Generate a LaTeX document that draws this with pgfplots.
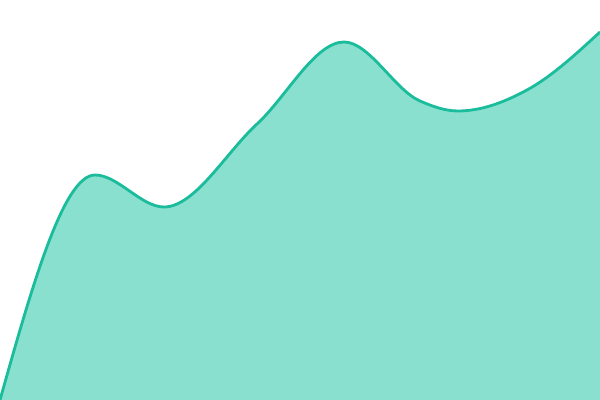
\documentclass[border=0pt]{standalone}
\usepackage{pgfplots}
\pgfplotsset{compat=1.18}
\definecolor{teal1}{HTML}{1ABC9C}
\definecolor{tealfill}{HTML}{8AE0CF}

% monotone cubic plot handler (like d3 curveMonotoneX)
\makeatletter
\newcount\mono@n
\newcount\mono@i
\newcount\mono@j
\def\mono@v#1#2{\csname mono@#1@\number#2\endcsname}
\def\pgfplothandlermonotone{%
  \def\pgf@plotstreamstart{%
    \global\mono@n=0\relax
    \global\let\pgf@plotstreampoint=\mono@point
    \global\let\pgf@plotstreamspecial=\pgfutil@gobble
    \global\let\pgf@plotstreamend=\mono@end
  }%
}
\def\mono@point#1{%
  \pgf@process{#1}%
  \global\advance\mono@n by 1\relax
  \expandafter\xdef\csname mono@x@\the\mono@n\endcsname{\pgf@sys@tonumber\pgf@x}%
  \expandafter\xdef\csname mono@y@\the\mono@n\endcsname{\pgf@sys@tonumber\pgf@y}%
}
\def\mono@end{%
  \ifnum\mono@n>1
    % secants
    \mono@i=1
    \loop\ifnum\mono@i<\mono@n
      \mono@j=\mono@i \advance\mono@j by 1
      \pgfmathsetmacro\mono@h{(\mono@v{x}{\mono@j})-(\mono@v{x}{\mono@i})}%
      \pgfmathsetmacro\mono@s{((\mono@v{y}{\mono@j})-(\mono@v{y}{\mono@i}))/\mono@h}%
      \expandafter\xdef\csname mono@h@\the\mono@i\endcsname{\mono@h}%
      \expandafter\xdef\csname mono@s@\the\mono@i\endcsname{\mono@s}%
      \advance\mono@i by 1
    \repeat
    % tangents at inner points
    \mono@i=2
    \loop\ifnum\mono@i<\mono@n
      \mono@j=\mono@i \advance\mono@j by -1
      \pgfmathsetmacro\mono@p{((\mono@v{s}{\mono@j})*(\mono@v{h}{\mono@i})+(\mono@v{s}{\mono@i})*(\mono@v{h}{\mono@j}))/((\mono@v{h}{\mono@j})+(\mono@v{h}{\mono@i}))}%
      \pgfmathsetmacro\mono@m{(sign(\mono@v{s}{\mono@j})+sign(\mono@v{s}{\mono@i}))*min(abs(\mono@v{s}{\mono@j}),abs(\mono@v{s}{\mono@i}),0.5*abs(\mono@p))}%
      \expandafter\xdef\csname mono@m@\the\mono@i\endcsname{\mono@m}%
      \advance\mono@i by 1
    \repeat
    % end tangents
    \ifnum\mono@n=2
      \expandafter\xdef\csname mono@m@1\endcsname{\mono@v{s}{1}}%
      \expandafter\xdef\csname mono@m@2\endcsname{\mono@v{s}{1}}%
    \else
      \pgfmathsetmacro\mono@m{(3*(\mono@v{s}{1})-(\mono@v{m}{2}))/2}%
      \expandafter\xdef\csname mono@m@1\endcsname{\mono@m}%
      \mono@i=\mono@n \advance\mono@i by -1
      \pgfmathsetmacro\mono@m{(3*(\mono@v{s}{\mono@i})-(\mono@v{m}{\mono@i}))/2}%
      \expandafter\xdef\csname mono@m@\the\mono@n\endcsname{\mono@m}%
    \fi
    % path
    \pgf@plot@first@action{\pgfqpoint{\mono@v{x}{1}pt}{\mono@v{y}{1}pt}}%
    \mono@i=1
    \loop\ifnum\mono@i<\mono@n
      \mono@j=\mono@i \advance\mono@j by 1
      \pgfmathsetmacro\mono@ax{(\mono@v{x}{\mono@i})+(\mono@v{h}{\mono@i})/3}%
      \pgfmathsetmacro\mono@ay{(\mono@v{y}{\mono@i})+(\mono@v{m}{\mono@i})*(\mono@v{h}{\mono@i})/3}%
      \pgfmathsetmacro\mono@bx{(\mono@v{x}{\mono@j})-(\mono@v{h}{\mono@i})/3}%
      \pgfmathsetmacro\mono@by{(\mono@v{y}{\mono@j})-(\mono@v{m}{\mono@j})*(\mono@v{h}{\mono@i})/3}%
      \pgfpathcurveto{\pgfqpoint{\mono@ax pt}{\mono@ay pt}}%
        {\pgfqpoint{\mono@bx pt}{\mono@by pt}}%
        {\pgfqpoint{\mono@v{x}{\mono@j}pt}{\mono@v{y}{\mono@j}pt}}%
      \advance\mono@i by 1
    \repeat
  \fi
}
\tikzset{monotone/.code={\let\tikz@plot@handler=\pgfplothandlermonotone}}
\makeatother

\begin{document}
\begin{tikzpicture}
\begin{axis}[
    width=15cm, height=10cm,
    scale only axis,
    hide axis,
    xmin=0, xmax=600,
    ymin=0, ymax=400,
    clip=true,
]
% keep the full plot area as bounding box
\path (rel axis cs:0,0) rectangle (rel axis cs:1,1);
% area
\addplot[fill=tealfill, draw=none, monotone] coordinates {
    (0,0) (95,225) (164,193) (257,276) (344,358) (420,299) (458,289) (527,310) (600,368)
} \closedcycle;
% line
\addplot[teal1, line width=2pt, monotone] coordinates {
    (0,0) (95,225) (164,193) (257,276) (344,358) (420,299) (458,289) (527,310) (600,368)
};
\end{axis}
\end{tikzpicture}
\end{document}
